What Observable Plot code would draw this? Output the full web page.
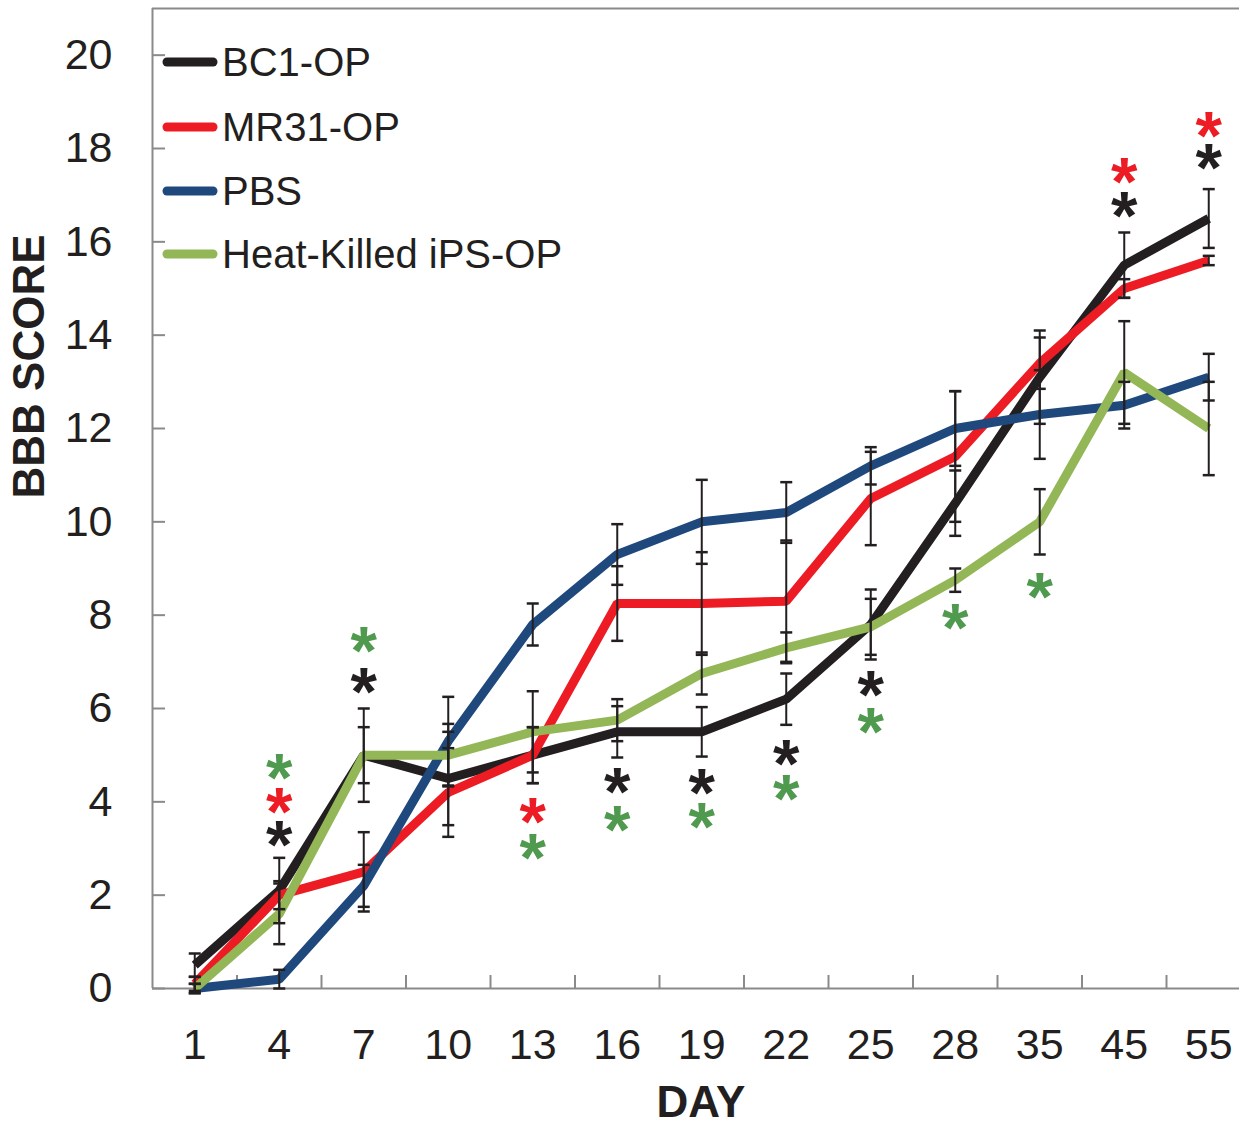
<!DOCTYPE html>
<html><head><meta charset="utf-8">
<script src="https://cdn.jsdelivr.net/npm/d3@7"></script>
<script src="https://cdn.jsdelivr.net/npm/@observablehq/plot@0.6"></script>
<style>
body{margin:0;background:#fff;}
#wrap{position:relative;width:1239px;height:1122px;font-family:"Liberation Sans",Arial,sans-serif;}
#legend{position:absolute;left:0;top:0;}
.row{position:absolute;left:162px;height:50px;display:flex;align-items:center;font-size:40px;line-height:1;color:#231f20;white-space:nowrap;}
.row svg{display:block;margin-right:4px;}
</style></head><body><div id="wrap"><div id="chart"></div><div id="legend"></div></div>
<script>
const days = ["1","4","7","10","13","16","19","22","25","28","35","45","55"];
const seriesNames = ["BC1-OP","MR31-OP","PBS","Heat-Killed iPS-OP"];
const seriesColors = ["#231f20","#ed1c24","#1f497d","#93b656"];
const starColors = ["#231f20","#ed1c24","#1f497d","#4f9a4f"];

const bc1     = [0.5, 2.1, 5.0, 4.5, 5.0, 5.5, 5.5, 6.2, 7.8, 10.4, 13.1, 15.5, 16.5];
const bc1Err  = [0.25,0.7, 0.6, 1.0, 0.6, 0.55,0.53,0.55,0.75,0.7, 1.0, 0.7, 0.63];
const mr31    = [0.1, 2.0, 2.5, 4.2, 5.0, 8.25,8.25,8.3, 10.5,11.4, 13.4, 15.0, 15.6];
const mr31Err = [0.15,0.3, 0.85,0.95,0.6, 0.8, 1.1, 1.3, 1.0, 1.4, 0.55, 0.2, 0.1];
const pbs     = [0.0, 0.2, 2.2, 5.3, 7.8, 9.3, 10.0,10.2,11.2,12.0, 12.3, 12.5, 13.1];
const pbsErr  = [0.1, 0.2, 0.45,0.95,0.45,0.65,0.9, 0.65,0.4, 0.8, 0.95, 0.5, 0.5];
const heat    = [0.0, 1.6, 5.0, 5.0, 5.5, 5.75,6.75,7.3, 7.75,8.75, 10.0, 13.2, 12.0];
const heatErr = [0.1, 0.65,1.0, 0.67,0.87,0.45,0.45,0.33,0.6, 0.25, 0.7, 1.1, 1.0];

// significance asterisks: day, level, series index
const starDays   = ["4","4","4","7","7","13","13","16","16","19","19","22","22","25","25","28","35","45","45","55","55"];
const starLevels = [4.73,4.0,3.28,7.45,6.57,3.77,3.0,4.41,3.6,4.39,3.66,5.03,4.28,6.49,5.7,7.94,8.59,17.5,16.77,18.48,17.8];
const starSeries = [3,1,0,3,0,1,3,0,3,0,3,0,3,0,3,3,3,1,0,1,0];

const yTicks = d3.range(0, 21, 2);

const values = [bc1, mr31, pbs, heat];
const errs = [bc1Err, mr31Err, pbsErr, heatErr];
const rows = values.flatMap((vals, s) => vals.map((v, i) => ({s, i, v, e: errs[s][i]})));
const stars = starDays.map((d, k) => ({i: days.indexOf(d), v: starLevels[k], s: starSeries[k]}));

const capSymbol = {draw(ctx, size) { const r = Math.sqrt(size / Math.PI); ctx.moveTo(-r, 0); ctx.lineTo(r, 0); }};
const axisColor = "#8a8a8a";
const ink = "#231f20";

const chart = Plot.plot({
  width: 1239, height: 1122,
  marginLeft: 152, marginRight: 0, marginTop: 8, marginBottom: 134,
  x: {type: "linear", domain: [-0.5, days.length - 0.5], range: [152, 152 + 84.5 * days.length]},
  y: {domain: [0, 21]},
  style: {fontFamily: "'Liberation Sans', Arial, sans-serif", fontSize: "43px", color: ink, background: "white", overflow: "visible"},
  marks: [
    Plot.ruleY([21], {stroke: axisColor, strokeWidth: 2}),
    Plot.ruleY([0], {stroke: axisColor, strokeWidth: 2}),
    Plot.ruleX([-0.5], {stroke: axisColor, strokeWidth: 2}),
    Plot.axisY({ticks: yTicks, tickSize: -13, tickFormat: () => "", label: null, stroke: axisColor, strokeWidth: 2}),
    Plot.axisY({ticks: yTicks, tickSize: 0, tickPadding: 40, label: null, fill: ink}),
    Plot.axisX({ticks: d3.range(0, days.length - 1).map(i => i + 0.5), tickSize: -13, tickFormat: () => "", label: null, stroke: axisColor, strokeWidth: 2}),
    Plot.axisX({ticks: d3.range(days.length), tickSize: 0, tickPadding: 40, tickFormat: i => days[i], label: null, fill: ink}),
    ...values.map((vals, s) => Plot.line(rows.filter(d => d.s === s), {x: "i", y: "v", stroke: seriesColors[s], strokeWidth: 9, strokeLinecap: "butt", strokeLinejoin: "miter"})),
    Plot.ruleX(rows, {x: "i", y1: d => d.v - d.e, y2: d => d.v + d.e, stroke: ink, strokeWidth: 2}),
    Plot.dot(rows, {x: "i", y: d => d.v - d.e, symbol: capSymbol, r: 6, stroke: ink, strokeWidth: 2.5, fill: "none"}),
    Plot.dot(rows, {x: "i", y: d => d.v + d.e, symbol: capSymbol, r: 6, stroke: ink, strokeWidth: 2.5, fill: "none"}),
    ...[0, 1, 3].map(s => Plot.text(stars.filter(d => d.s === s), {x: "i", y: "v", text: () => "*", fill: starColors[s], fontSize: 68, fontWeight: "bold", dy: 11})),
    Plot.text(["DAY"], {frameAnchor: "bottom", dx: 5, dy: 128, fontSize: 44, fontWeight: "bold", fill: ink}),
    Plot.text(["BBB SCORE"], {frameAnchor: "left", dx: -123, rotate: -90, fontSize: 44, fontWeight: "bold", fill: ink})
  ]
});
document.getElementById("chart").append(chart);

const legend = document.getElementById("legend");
const rowCenters = [62, 127, 191, 254];
seriesNames.forEach((name, s) => {
  const row = document.createElement("div");
  row.className = "row";
  row.style.top = (rowCenters[s] - 25) + "px";
  row.innerHTML = `<svg width="56" height="12"><line x1="5" y1="6" x2="51" y2="6" stroke="${seriesColors[s]}" stroke-width="9" stroke-linecap="round"/></svg><span>${name}</span>`;
  legend.append(row);
});
</script></body></html>
